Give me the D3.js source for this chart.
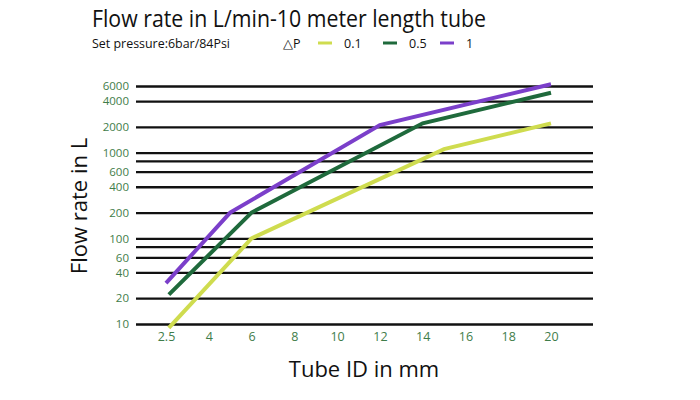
<!DOCTYPE html>
<html>
<head>
<meta charset="utf-8">
<script src="https://cdn.jsdelivr.net/npm/d3@7"></script>
<style>
  body { margin: 0; background: #fff; }
  text { font-family: "Open Sans", "Noto Sans", sans-serif; }
</style>
</head>
<body>
<div id="chart"></div>
<script>
// tube inner diameters shown on the x axis
const tubeTicks = ['2.5', '4', '6', '8', '10', '12', '14', '16', '18', '20'];
// flow labels and gridlines on the y axis
const flowTicks = [10, 20, 40, 60, 100, 200, 400, 600, 1000, 2000, 4000, 6000];
const flowGrid = [10, 20, 40, 60, 80, 100, 200, 400, 600, 800, 1000, 2000, 4000, 6000];

// pressure drop series
const seriesNames = ['0.1', '0.5', '1'];
const tube01 = [2.6, 6, 15, 20];
const flow01 = [9, 100, 1100, 2200];
const tube05 = [2.6, 6, 14, 20];
const flow05 = [22, 200, 2200, 5000];
const tube1 = [2.5, 5, 12, 20];
const flow1 = [30, 200, 2100, 6300];

const colors = ['#cfdc4f', '#1f6a3c', '#7b3fca'];

const series = [
    tube01.map((t, i) => ({tube: t, flow: flow01[i]})),
    tube05.map((t, i) => ({tube: t, flow: flow05[i]})),
    tube1.map((t, i) => ({tube: t, flow: flow1[i]}))
];

const margin = {top: 86, right: 107, bottom: 76, left: 136},
    width = 700 - margin.left - margin.right,
    height = 400 - margin.top - margin.bottom;

const root = d3.select("#chart")
    .append("svg")
    .attr("width", 700)
    .attr("height", 400);

const svg = root.append("g")
    .attr("transform", `translate(${margin.left},${margin.top})`);

// x: evenly spaced ticks, values placed between them piecewise
const xPoint = d3.scalePoint()
    .domain(tubeTicks)
    .range([30, 415]);
const x = d3.scaleLinear()
    .domain(tubeTicks.map(Number))
    .range(tubeTicks.map(d => xPoint(d)));

const y = d3.scaleLog()
    .domain([10, 6000])
    .range([height, 0]);

// gridlines
svg.append("g")
    .call(d3.axisLeft(y).tickValues(flowGrid).tickSize(-width).tickFormat(""))
    .call(g => g.select(".domain").remove())
    .call(g => g.selectAll(".tick line").attr("stroke", "#111").attr("stroke-width", 2.3));

// y labels
svg.append("g")
    .call(d3.axisLeft(y).tickValues(flowTicks).tickSize(0).tickPadding(7).tickFormat(d3.format("d")))
    .call(g => g.select(".domain").remove())
    .selectAll("text")
    .attr("fill", "#3f7d4a")
    .style("font-size", "11.5px")
    .style("font-family", "'Open Sans', sans-serif");

// x labels
svg.append("g")
    .attr("transform", `translate(0, ${height})`)
    .call(d3.axisBottom(xPoint).tickSize(0).tickPadding(8))
    .call(g => g.select(".domain").remove())
    .selectAll("text")
    .attr("fill", "#3f7d4a")
    .style("font-size", "12.5px")
    .style("font-family", "'Open Sans', sans-serif");

// lines
const line = d3.line()
    .x(d => x(d.tube))
    .y(d => y(d.flow));

series.forEach((s, i) => {
    svg.append("path")
        .datum(s)
        .attr("fill", "none")
        .attr("stroke", colors[i])
        .attr("stroke-width", 4)
        .attr("stroke-linejoin", "miter")
        .attr("d", line);
});

// axis titles
root.append("text")
    .attr("x", 364)
    .attr("y", 377)
    .attr("text-anchor", "middle")
    .style("font-size", "22px")
    .attr("fill", "#111")
    .text("Tube ID in mm");

root.append("text")
    .attr("transform", "translate(87, 206) rotate(-90)")
    .attr("text-anchor", "middle")
    .style("font-size", "22px")
    .attr("fill", "#111")
    .text("Flow rate in L");

// title and subtitle
root.append("text")
    .attr("x", 92)
    .attr("y", 27)
    .attr("textLength", 394)
    .attr("lengthAdjust", "spacingAndGlyphs")
    .style("font-size", "24px")
    .attr("fill", "#111")
    .text("Flow rate in L/min-10 meter length tube");

root.append("text")
    .attr("x", 92)
    .attr("y", 48)
    .attr("textLength", 138)
    .attr("lengthAdjust", "spacingAndGlyphs")
    .style("font-size", "12.5px")
    .attr("fill", "#111")
    .text("Set pressure:6bar/84Psi");

// legend
const legend = root.append("g");
legend.append("text")
    .attr("x", 283)
    .attr("y", 48)
    .style("font-size", "12.5px")
    .attr("fill", "#111")
    .text("\u25B3P");

const legendX = [318, 383, 440];
seriesNames.forEach((name, i) => {
    legend.append("line")
        .attr("x1", legendX[i])
        .attr("x2", legendX[i] + 14)
        .attr("y1", 43)
        .attr("y2", 43)
        .attr("stroke", colors[i])
        .attr("stroke-width", 3);
    legend.append("text")
        .attr("x", legendX[i] + 26)
        .attr("y", 48)
        .style("font-size", "12.5px")
        .attr("fill", "#111")
        .text(name);
});
</script>
</body>
</html>
